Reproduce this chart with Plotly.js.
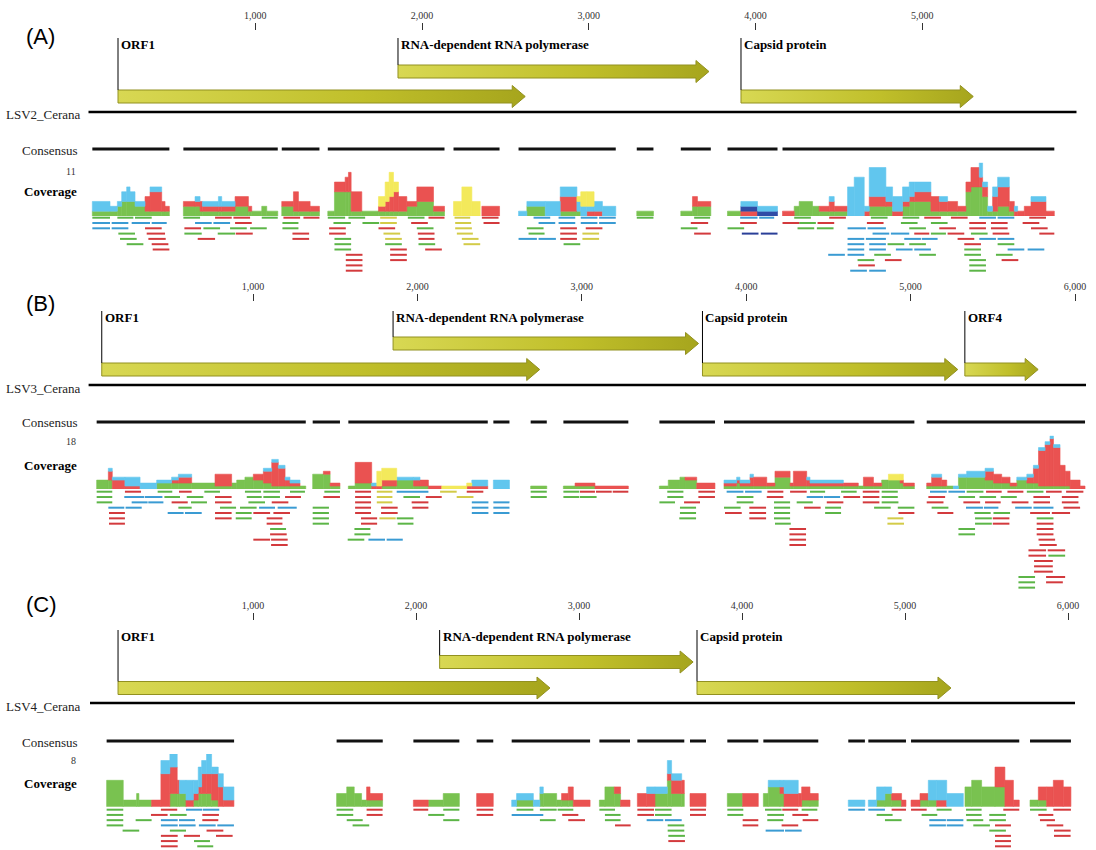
<!DOCTYPE html>
<html><head><meta charset="utf-8">
<script src="https://cdn.plot.ly/plotly-3.0.1.min.js"></script>
<style>html,body{margin:0;padding:0;background:#fff}#chart{width:1096px;height:850px}</style>
</head><body><div id="chart"></div>
<script>
// ---------------- DATA ----------------
const tickValsA = [1000, 2000, 3000, 4000, 5000];
const tickValsBC = [1000, 2000, 3000, 4000, 5000, 6000];

// genes: [name, start, end, row]  (row 1 = upper lane, 0 = lower lane)
const A_genes = [["ORF1", 177, 2619, 0], ["RNA-dependent RNA polymerase", 1856, 3721, 1], ["Capsid protein", 3913, 5306, 0]];
const B_genes = [["ORF1", 80, 2744, 0], ["RNA-dependent RNA polymerase", 1852, 3710, 1], ["Capsid protein", 3734, 5287, 0], ["ORF4", 5330, 5776, 0]];
const C_genes = [["ORF1", 172, 2822, 0], ["RNA-dependent RNA polymerase", 2145, 3700, 1], ["Capsid protein", 3724, 5282, 0]];

const A_length = 5925, B_length = 6067, C_length = 6043;
const A_maxCov = 11, B_maxCov = 18, C_maxCov = 8;

// consensus segments [start, end]
const A_consensus = [[23,485],[569,1135],[1159,1385],[1435,2135],[2189,2465],[2579,3162],[3288,3388],[3552,3732],[3832,4132],[4162,5792]];
const B_consensus = [[49,1321],[1363,1529],[1580,2428],[2462,2560],[2689,2787],[2888,3283],[3472,3810],[3865,5023],[5098,6061]];
const C_consensus = [[102,884],[1513,1796],[1984,2266],[2372,2474],[2587,3068],[3125,3313],[3358,3646],[3681,3779],[3910,4100],[4131,4468],[4652,4754],[4775,5006],[5037,5701],[5767,6018]];

// coverage segments [start, end, green, red, blue, yellow, darkblue]
const A_coverage = [
[23,129,1,0,2,0,0],[129,173,1,0,1,0,0],[173,199,2,0,1,0,0],[199,229,3,0,2,0,0],[229,249,3,0,3,0,0],[249,279,3,0,2,0,0],[279,339,2,0,1,0,0],[339,369,1,3,0,0,0],[369,439,1,4,1,0,0],[439,459,1,2,0,0,0],[459,485,1,1,0,0,0],
[569,639,2,1,0,0,0],[639,669,2,1,1,0,0],[669,683,1,2,0,0,0],[683,779,1,1,1,0,0],[779,799,1,1,2,0,0],[799,879,1,1,1,0,0],[879,959,2,2,0,0,0],[959,979,1,1,0,0,0],[979,1039,1,0,0,0,0],[1039,1069,2,0,0,0,0],[1069,1135,1,0,0,0,0],
[1159,1229,2,1,0,0,0],[1229,1259,1,4,0,0,0],[1259,1329,1,2,0,0,0],[1329,1385,1,1,0,0,0],
[1435,1475,1,0,0,0,0],[1475,1539,5,2,0,0,0],[1539,1559,5,3,0,0,0],[1559,1575,5,4,0,0,0],[1575,1639,1,4,0,0,0],[1639,1739,1,0,0,0,0],[1739,1779,1,1,0,2,0],[1779,1803,1,2,0,4,0],[1803,1829,1,3,0,5,0],[1829,1859,1,4,0,2,0],[1859,1909,1,3,0,0,0],[1909,1969,2,1,0,0,0],[1969,2069,3,3,0,0,0],[2069,2135,1,1,0,0,0],
[2189,2239,0,0,0,3,0],[2239,2299,0,0,0,6,0],[2299,2349,0,0,0,3,0],[2359,2465,0,2,0,0,0],
[2579,2629,0,0,1,0,0],[2629,2739,2,0,1,0,0],[2739,2829,0,0,3,0,0],[2829,2929,1,3,2,0,0],[2929,2952,1,0,2,1,0],[2952,2988,0,0,2,3,0],[2988,3032,0,1,1,3,0],[3032,3082,0,1,2,0,0],[3082,3162,0,0,2,0,0],
[3288,3388,1,0,0,0,0],
[3552,3622,1,0,0,0,0],[3622,3652,2,2,0,0,0],[3652,3732,2,1,0,0,0],
[3832,3912,1,0,0,0,0],[3912,4012,0,1,1,0,1],[4012,4132,0,0,1,0,1],
[4162,4232,0,1,0,0,0],[4232,4262,2,0,0,0,0],[4262,4342,3,0,0,0,0],[4342,4382,2,0,0,0,0],[4382,4442,1,1,0,0,0],[4442,4472,1,2,1,0,0],[4472,4552,1,1,0,0,0],[4552,4592,0,0,6,0,0],[4592,4652,0,0,8,0,0],[4652,4682,0,1,1,0,0],[4682,4782,2,2,6,0,0],[4782,4822,2,1,3,0,0],[4822,4882,0,1,3,0,0],[4882,4922,2,1,3,0,0],[4922,4952,3,1,3,0,0],[4952,5052,3,2,2,0,0],[5052,5102,1,3,0,0,0],[5102,5152,1,2,1,0,0],[5152,5212,1,2,0,0,0],[5212,5262,1,1,0,0,0],[5262,5292,5,2,0,0,0],[5292,5342,6,4,0,0,0],[5342,5362,6,2,3,0,0],[5362,5392,4,2,1,0,0],[5392,5422,1,0,1,0,0],[5422,5452,1,3,2,0,0],[5452,5522,2,4,2,0,0],[5522,5552,1,2,0,0,0],[5552,5572,0,1,1,0,0],[5572,5612,0,1,0,0,0],[5612,5652,0,2,0,0,0],[5652,5742,0,3,1,0,0],[5742,5792,0,1,0,0,0]
];
const B_coverage = [
[49,120,3,0,0,0,0],[120,144,3,3,1,0,0],[144,221,0,3,1,0,0],[221,313,0,1,3,0,0],[313,414,0,0,2,0,0],[414,505,2,0,1,0,0],[505,546,2,1,1,0,0],[546,627,2,2,1,0,0],[627,769,2,0,0,0,0],[769,870,1,4,0,0,0],[870,901,2,0,0,0,0],[901,951,3,0,0,0,0],[951,1002,4,0,0,0,0],[1002,1063,3,2,0,0,0],[1063,1114,2,4,1,0,0],[1114,1154,1,8,1,0,0],[1154,1195,1,6,1,0,0],[1195,1225,1,2,1,0,0],[1225,1286,1,1,1,0,0],[1286,1321,1,0,0,0,0],
[1363,1428,5,0,0,0,0],[1428,1469,5,1,0,0,0],[1469,1529,1,1,0,0,0],
[1580,1621,1,0,0,0,0],[1621,1722,2,7,0,0,0],[1722,1753,0,1,1,0,0],[1753,1783,0,1,0,5,0],[1783,1874,1,2,0,4,0],[1874,1976,3,0,1,0,0],[1976,2016,1,2,1,0,0],[2016,2067,1,2,0,0,0],[2067,2148,0,1,0,0,0],[2148,2300,0,0,0,1,0],[2300,2331,0,1,0,1,0],[2331,2428,0,1,2,0,0],
[2462,2560,0,0,3,0,0],[2689,2787,1,0,0,0,0],[2888,2959,1,0,0,0,0],[2959,3080,1,1,0,0,0],[3080,3283,0,1,0,0,0],
[3472,3526,1,0,0,0,0],[3526,3597,3,0,0,0,0],[3597,3628,4,0,0,0,0],[3628,3699,3,1,0,0,0],[3699,3810,0,2,0,0,0],
[3865,3942,1,1,1,0,0],[3942,3962,2,1,1,0,0],[3962,4023,1,1,1,0,0],[4023,4044,1,3,1,0,0],[4044,4125,1,3,0,0,0],[4125,4175,1,1,0,0,0],[4175,4267,4,2,0,0,0],[4267,4287,1,1,0,0,0],[4287,4368,1,5,0,0,0],[4368,4388,1,2,1,0,0],[4388,4591,1,1,1,0,0],[4591,4682,1,1,0,0,0],[4682,4713,1,0,0,0,0],[4713,4774,1,3,0,0,0],[4774,4824,1,1,0,0,0],[4824,4865,3,0,0,0,0],[4865,4936,3,0,0,2,0],[4936,4956,2,1,0,2,0],[4956,5023,1,1,0,0,0],
[5098,5128,1,1,0,0,0],[5128,5189,1,3,1,0,0],[5189,5220,1,2,0,0,0],[5220,5260,1,0,0,0,0],[5260,5291,0,0,1,0,0],[5291,5341,4,0,1,0,0],[5341,5453,4,0,2,0,0],[5453,5504,3,3,1,0,0],[5504,5554,2,3,0,0,0],[5554,5605,2,2,0,0,0],[5605,5646,1,1,0,0,0],[5646,5707,3,0,1,0,0],[5707,5747,2,2,1,0,0],[5747,5778,2,5,1,0,0],[5778,5818,1,12,1,0,0],[5818,5848,1,14,1,0,0],[5848,5869,1,16,1,0,0],[5869,5909,1,13,1,0,0],[5909,5940,1,7,0,0,0],[5940,5970,1,5,0,0,0],[5970,6031,0,3,0,0,0],[6031,6061,0,1,0,0,0]
];
const C_coverage = [
[102,204,4,0,0,0,0],[204,286,1,0,0,0,0],[286,300,2,0,0,0,0],[300,378,1,0,0,0,0],[378,435,0,1,0,0,0],[435,490,0,5,2,0,0],[490,535,2,4,2,0,0],[535,548,2,2,0,0,0],[548,589,2,0,2,0,0],[589,634,0,1,3,0,0],[634,664,1,1,2,0,0],[664,685,2,1,3,0,0],[685,715,2,3,2,0,0],[715,746,2,3,3,0,0],[746,787,1,4,1,0,0],[787,818,0,3,2,0,0],[818,883,0,1,2,0,0],
[1513,1575,2,0,0,0,0],[1575,1621,3,0,0,0,0],[1621,1666,2,0,0,0,0],[1666,1697,1,0,0,0,0],[1697,1718,1,2,0,0,0],[1718,1795,1,1,0,0,0],
[1984,2075,0,1,0,0,0],[2075,2167,1,0,0,0,0],[2167,2266,2,0,0,0,0],
[2372,2474,0,2,0,0,0],
[2587,2617,0,0,1,0,0],[2617,2720,1,0,1,0,0],[2720,2760,0,0,1,0,0],[2760,2781,2,0,1,0,0],[2781,2863,2,0,0,0,0],[2863,2893,1,0,0,0,0],[2893,2934,1,1,0,0,0],[2934,2965,1,2,0,0,0],[2965,3068,0,1,0,0,0],
[3125,3159,1,0,0,0,0],[3159,3217,3,0,0,0,0],[3217,3255,2,1,0,0,0],[3255,3313,0,1,0,0,0],
[3358,3415,0,2,0,0,0],[3415,3466,0,2,1,0,0],[3466,3542,2,0,1,0,0],[3542,3568,4,1,2,0,0],[3568,3630,2,2,1,0,0],[3630,3646,2,2,0,0,0],
[3681,3779,0,2,0,0,0],
[3910,4004,2,0,0,0,0],[4004,4100,0,2,0,0,0],
[4131,4161,2,0,0,0,0],[4161,4233,3,0,1,0,0],[4233,4258,2,1,1,0,0],[4258,4345,0,2,2,0,0],[4345,4366,0,2,0,0,0],[4366,4417,1,2,0,0,0],[4417,4468,1,1,0,0,0],
[4652,4754,0,0,1,0,0],
[4775,4826,0,0,1,0,0],[4826,4877,1,0,2,0,0],[4877,4918,2,0,1,0,0],[4918,4979,1,1,0,0,0],[4979,5006,0,1,0,0,0],
[5037,5092,0,1,0,0,0],[5092,5143,1,1,0,0,0],[5143,5194,1,0,3,0,0],[5194,5256,0,1,3,0,0],[5256,5358,0,0,2,0,0],[5368,5409,3,0,0,0,0],[5409,5470,4,0,0,0,0],[5470,5552,3,0,0,0,0],[5552,5613,3,3,0,0,0],[5613,5665,0,4,0,0,0],[5665,5701,0,1,0,0,0],
[5767,5818,1,0,0,0,0],[5818,5869,1,2,0,0,0],[5869,5910,0,3,0,0,0],[5910,5971,0,4,0,0,0],[5971,6018,0,3,0,0,0]
];

// reads [start, end, row, colour]  g=green r=red b=blue y=yellow d=dark blue
const A_reads = [
[23,129,0,'g'],[173,269,0,'g'],[279,379,0,'g'],[569,669,0,'g'],[759,859,0,'r'],[869,969,0,'r'],[1039,1135,0,'g'],[1169,1269,0,'r'],[1289,1385,0,'r'],[1435,1539,0,'g'],[1559,1659,0,'g'],[1749,1849,0,'y'],[1915,2015,0,'g'],[2039,2135,0,'r'],[2195,2289,0,'y'],[2359,2459,0,'r'],[2669,2769,0,'b'],[2819,2919,0,'b'],[2952,3052,0,'b'],[3062,3162,0,'b'],[3288,3388,0,'g'],[3632,3728,0,'g'],[3908,4012,0,'b'],[4022,4112,0,'b'],[4232,4332,0,'g'],[4442,4542,0,'r'],[4692,4792,0,'g'],[4882,4982,0,'g'],[5012,5112,0,'r'],[5172,5272,0,'r'],[5342,5442,0,'b'],[5452,5552,0,'b'],[5642,5742,0,'r'],
[23,129,1,'b'],[139,239,1,'b'],[259,369,1,'b'],[379,469,1,'b'],[639,739,1,'b'],[749,849,1,'b'],[879,979,1,'r'],[1163,1259,1,'g'],[1469,1573,1,'g'],[1643,1743,1,'g'],[1749,1849,1,'y'],[1935,2035,1,'r'],[2199,2295,1,'y'],[2369,2465,1,'r'],[2699,2799,1,'b'],[2819,2919,1,'b'],[2952,3052,1,'b'],[3062,3162,1,'b'],[3612,3716,1,'r'],[3908,4008,1,'r'],[4162,4262,1,'r'],[4262,4362,1,'g'],[4372,4472,1,'r'],[4668,4768,1,'r'],[4872,4972,1,'g'],[5052,5152,1,'g'],[5282,5382,1,'r'],[5412,5512,1,'r'],[5602,5702,1,'r'],
[23,129,2,'b'],[139,239,2,'b'],[339,439,2,'r'],[575,675,2,'r'],[689,789,2,'g'],[849,949,2,'g'],[969,1069,2,'g'],[1163,1259,2,'g'],[1443,1543,2,'r'],[1739,1839,2,'r'],[1969,2069,2,'g'],[2199,2299,2,'y'],[2629,2729,2,'g'],[2829,2929,2,'r'],[2982,3082,2,'r'],[3552,3652,2,'g'],[3832,3932,2,'g'],[4252,4352,2,'g'],[4368,4468,2,'g'],[4552,4662,2,'b'],[4672,4782,2,'b'],[4922,5022,2,'g'],[5102,5202,2,'r'],[5282,5382,2,'r'],[5412,5512,2,'r'],[5652,5752,2,'r'],
[179,279,3,'g'],[349,459,3,'r'],[575,679,3,'g'],[775,879,3,'g'],[883,985,3,'r'],[1223,1323,3,'r'],[1443,1543,3,'r'],[1769,1869,3,'y'],[1975,2075,3,'r'],[2209,2305,3,'y'],[2639,2735,3,'g'],[2829,2929,3,'r'],[2962,3062,3,'y'],[3632,3732,3,'r'],[3918,4018,3,'d'],[4032,4132,3,'d'],[4702,4802,3,'b'],[4812,4922,3,'b'],[4952,5042,3,'r'],[5052,5142,3,'g'],[5152,5252,3,'r'],[5292,5392,3,'g'],[5422,5522,3,'r'],[5702,5792,3,'r'],
[189,289,4,'g'],[359,463,4,'r'],[655,759,4,'r'],[1223,1323,4,'r'],[1475,1575,4,'g'],[1779,1879,4,'y'],[1979,2075,4,'r'],[2239,2339,4,'y'],[2579,2689,4,'b'],[2699,2803,4,'b'],[2829,2929,4,'r'],[2962,3062,4,'y'],[4552,4652,4,'b'],[4662,4782,4,'b'],[4892,4992,4,'b'],[4997,5092,4,'b'],[5212,5312,4,'r'],[5342,5442,4,'b'],[5452,5552,4,'b'],
[229,329,5,'g'],[379,479,5,'r'],[1475,1575,5,'g'],[1779,1879,5,'g'],[1979,2079,5,'g'],[2249,2349,5,'y'],[2849,2949,5,'g'],[4552,4652,5,'b'],[4682,4782,5,'b'],[4792,4892,5,'g'],[4922,5022,5,'g'],[5252,5352,5,'r'],[5452,5552,5,'g'],
[385,485,6,'r'],[1475,1575,6,'g'],[1809,1909,6,'r'],[2019,2119,6,'r'],[4552,4652,6,'b'],[4682,4782,6,'b'],[4842,4942,6,'b'],[4952,5052,6,'b'],[5252,5352,6,'g'],[5512,5612,6,'b'],[5632,5732,6,'b'],
[1543,1643,7,'r'],[1809,1909,7,'r'],[4436,4536,7,'b'],[4552,4652,7,'b'],[4712,4812,7,'g'],[4982,5082,7,'g'],[5252,5352,7,'g'],[5442,5542,7,'g'],
[1543,1643,8,'r'],[1809,1909,8,'r'],[4612,4712,8,'g'],[4776,4876,8,'r'],[5282,5382,8,'g'],[5476,5576,8,'r'],
[1543,1643,9,'r'],[4616,4716,9,'r'],[5282,5382,9,'g'],
[1543,1643,10,'r'],[4568,4668,10,'b'],[4682,4782,10,'b'],[5282,5382,10,'g']
];
const B_reads = [
[49,144,0,'g'],[221,319,0,'r'],[420,509,0,'g'],[550,627,0,'r'],[704,799,0,'g'],[951,1049,0,'g'],[1063,1164,0,'g'],[1225,1316,0,'g'],[1434,1529,0,'g'],[1621,1718,0,'r'],[1753,1848,0,'y'],[1874,2067,0,'b'],[2138,2239,0,'y'],[2300,2401,0,'r'],[2689,2787,0,'g'],[2888,2985,0,'g'],[2989,3080,0,'r'],[3086,3182,0,'r'],[3188,3283,0,'r'],[3520,3618,0,'g'],[3709,3810,0,'r'],[3881,3983,0,'b'],[3993,4094,0,'b'],[4129,4226,0,'r'],[4267,4368,0,'r'],[4388,4480,0,'g'],[4577,4672,0,'g'],[4709,4810,0,'r'],[4824,4922,0,'g'],[5118,5220,0,'b'],[5230,5331,0,'b'],[5341,5443,0,'g'],[5459,5554,0,'r'],[5589,5686,0,'r'],[5707,5808,0,'g'],[5824,5919,0,'r'],[5946,6051,0,'r'],
[49,144,1,'g'],[217,339,1,'b'],[343,449,1,'b'],[461,556,1,'g'],[597,698,1,'g'],[769,870,1,'r'],[962,1053,1,'g'],[1063,1164,1,'g'],[1195,1292,1,'r'],[1428,1529,1,'r'],[1621,1718,1,'r'],[1753,1848,1,'y'],[1915,2016,1,'g'],[2051,2148,1,'r'],[2239,2341,1,'y'],[2689,2787,1,'g'],[2888,2985,1,'g'],[2989,3090,1,'g'],[3520,3618,1,'g'],[3709,3810,1,'r'],[3942,4044,1,'g'],[4125,4226,1,'r'],[4368,4469,1,'b'],[4473,4571,1,'b'],[4591,4693,1,'r'],[4709,4810,1,'r'],[4824,4922,1,'g'],[5108,5210,1,'r'],[5291,5392,1,'g'],[5419,5520,1,'g'],[5548,5646,1,'g'],[5747,5848,1,'r'],[5920,6021,1,'r'],
[49,144,2,'g'],[262,359,2,'b'],[363,455,2,'b'],[505,603,2,'r'],[623,720,2,'g'],[769,870,2,'r'],[972,1073,2,'g'],[1114,1215,2,'r'],[1621,1718,2,'r'],[1753,1848,2,'y'],[1965,2067,2,'r'],[2331,2432,2,'b'],[2462,2560,2,'b'],[3472,3567,2,'g'],[3622,3719,2,'r'],[3942,4044,2,'g'],[4169,4267,2,'g'],[4307,4405,2,'g'],[4490,4591,2,'r'],[4709,4810,2,'r'],[4824,4926,2,'g'],[5098,5200,2,'r'],[5321,5423,2,'r'],[5453,5548,2,'r'],[5615,5717,2,'r'],[5747,5848,2,'r'],[5920,6021,2,'r'],
[120,217,3,'b'],[225,323,3,'b'],[546,627,3,'g'],[799,897,3,'g'],[921,1022,3,'g'],[1037,1134,3,'b'],[1150,1266,3,'b'],[1363,1462,3,'g'],[1621,1718,3,'r'],[1779,1880,3,'r'],[1969,2067,3,'r'],[2331,2432,3,'b'],[2462,2560,3,'b'],[3597,3695,3,'g'],[3865,3966,3,'g'],[4019,4121,3,'r'],[4169,4267,3,'g'],[4352,4453,3,'r'],[4480,4577,3,'g'],[4778,4879,3,'g'],[4922,5023,3,'g'],[5128,5230,3,'g'],[5337,5440,3,'b'],[5446,5534,3,'b'],[5636,5737,3,'b'],[5747,5869,3,'b'],[5930,6031,3,'r'],
[124,221,4,'r'],[481,578,4,'b'],[586,688,4,'b'],[769,870,4,'r'],[895,992,4,'g'],[1002,1104,4,'r'],[1124,1225,4,'r'],[1363,1462,4,'g'],[1621,1718,4,'r'],[1779,1880,4,'r'],[2331,2432,4,'b'],[2462,2560,4,'b'],[3597,3695,4,'g'],[3871,3973,4,'r'],[4019,4121,4,'r'],[4169,4267,4,'g'],[4480,4577,4,'g'],[4926,5023,4,'r'],[5163,5260,4,'r'],[5388,5487,4,'g'],[5504,5605,4,'g'],[5727,5848,4,'r'],[5859,5970,4,'r'],
[124,221,5,'r'],[769,870,5,'r'],[895,992,5,'g'],[1083,1179,5,'r'],[1363,1462,5,'g'],[1657,1755,5,'r'],[1769,1868,5,'y'],[1874,1976,5,'g'],[3593,3695,5,'g'],[4019,4121,5,'r'],[4169,4267,5,'g'],[4859,4956,5,'y'],[5392,5494,5,'g'],[5500,5601,5,'r'],[5767,5869,5,'g'],
[124,221,6,'r'],[1083,1179,6,'r'],[1363,1462,6,'g'],[1657,1755,6,'r'],[1880,1976,6,'g'],[4175,4271,6,'g'],[4859,4960,6,'y'],[5392,5494,6,'g'],[5500,5601,6,'r'],[5767,5869,6,'r'],
[1104,1201,7,'g'],[1617,1714,7,'g'],[4263,4364,7,'r'],[5291,5392,7,'g'],[5767,5869,7,'r'],
[1104,1205,8,'r'],[1617,1714,8,'g'],[4263,4364,8,'r'],[5291,5392,8,'g'],[5767,5869,8,'r'],
[1002,1104,9,'r'],[1110,1211,9,'r'],[1576,1677,9,'g'],[1702,1803,9,'b'],[1813,1911,9,'b'],[4263,4364,9,'r'],[5778,5879,9,'r'],
[1110,1211,10,'r'],[4263,4364,10,'r'],[5784,5889,10,'r'],
[5717,5824,11,'r'],[5834,5940,11,'r'],
[5717,5824,12,'r'],[5838,5940,12,'g'],
[5751,5865,13,'r'],[5751,5865,14,'r'],[5751,5865,15,'r'],
[5656,5757,16,'g'],[5824,5940,16,'r'],
[5656,5757,17,'g'],[5824,5926,17,'r'],
[5656,5757,18,'g']
];
const C_reads = [
[102,204,0,'g'],[435,535,0,'r'],[589,689,0,'b'],[693,793,0,'b'],
[102,204,1,'g'],[374,476,1,'r'],[490,593,1,'g'],[689,791,1,'r'],
[102,204,2,'g'],[280,378,2,'g'],[435,538,2,'b'],[546,644,2,'b'],[689,787,2,'r'],
[102,204,3,'g'],[435,538,3,'b'],[546,648,3,'b'],[668,771,3,'b'],[781,883,3,'b'],
[200,302,4,'g'],[490,589,4,'g'],[715,818,4,'r'],
[435,538,5,'r'],[576,675,5,'r'],[773,875,5,'r'],
[435,538,6,'r'],[638,736,6,'g'],
[435,538,7,'r'],[658,756,7,'g'],
[1513,1615,0,'g'],[1697,1795,0,'r'],[1513,1615,1,'g'],[1697,1795,1,'r'],[1575,1673,2,'g'],[1611,1713,3,'g'],
[1984,2075,0,'r'],[2167,2266,0,'g'],[2075,2174,1,'g'],[2167,2266,2,'g'],
[2372,2474,0,'r'],[2372,2474,1,'r'],
[2617,2720,0,'g'],[2760,2863,0,'g'],[2869,2965,0,'g'],[2587,2781,1,'b'],[2897,2996,1,'r'],[2760,2857,2,'g'],[2934,3037,2,'r'],
[3125,3221,0,'g'],[3358,3460,0,'r'],[3466,3568,0,'g'],[3681,3779,0,'r'],[3910,4008,0,'g'],[4141,4243,0,'g'],[4247,4345,0,'r'],[4366,4462,0,'g'],[4652,4754,0,'b'],[4775,4877,0,'b'],[4918,5006,0,'r'],[5037,5133,0,'r'],[5194,5286,0,'g'],[5374,5470,0,'g'],[5603,5701,0,'r'],[5767,5869,0,'g'],[5910,6018,0,'r'],
[3159,3255,1,'g'],[3358,3460,1,'r'],[3466,3568,1,'g'],[3681,3779,1,'r'],[3910,4008,1,'g'],[4155,4258,1,'g'],[4309,4407,1,'r'],[4826,4924,1,'g'],[5102,5198,1,'g'],[5374,5470,1,'g'],[5517,5619,1,'g'],[5818,5910,1,'r'],
[3159,3255,2,'g'],[3415,3517,2,'b'],[3527,3630,2,'b'],[4004,4100,2,'r'],[4155,4253,2,'g'],[4372,4468,2,'r'],[4877,4979,2,'g'],[5149,5251,2,'b'],[5256,5358,2,'b'],[5378,5480,2,'g'],[5517,5619,2,'g'],[5828,5920,2,'r'],
[3221,3317,3,'r'],[3544,3646,3,'g'],[4004,4100,3,'r'],[4243,4345,3,'r'],[5149,5251,3,'b'],[5256,5358,3,'b'],[5419,5521,3,'g'],[5552,5650,3,'r'],[5869,5971,3,'r'],
[3544,3646,4,'g'],[4145,4258,4,'b'],[4264,4366,4,'b'],[5517,5619,4,'g'],[5914,6016,4,'r'],
[3548,3650,5,'g'],[5552,5650,5,'r'],[5914,6016,5,'r'],
[3548,3650,6,'r'],[5552,5650,6,'r'],
[5552,5650,7,'r']
];

// ---------------- STYLE / LAYOUT CONSTANTS ----------------
const W = 1096, H = 850;
const SERIF = "Liberation Serif, Times New Roman, serif";
const covColor = {g:'#79c250', r:'#ea5251', d:'#2f4ca6', b:'#61c6ee', y:'#f3e95b'};
const readColor = {g:'#5cb547', r:'#d33a3d', d:'#2a3f98', b:'#3a9bd3', y:'#d3cb48'};
const covIdx = {g:2, r:3, b:4, y:5, d:6};
const stackOrder = ['g','r','d','b','y'];

const panels = [
  {tag:'(A)', name:'LSV2_Cerana', len:A_length, maxCov:A_maxCov, genes:A_genes, cons:A_consensus, cov:A_coverage, reads:A_reads, ticks:tickValsA,
   slope:0.16675, icpt:88.5, top:0, bottom:282, axisY:30, tagY:36, geneLabelY:44, upY:71.5, lowY:96.5, genomeY:112, consY:149, maxY:171, covLblY:191, covBase:216, pxU:4.85, readTop:217.7, rowGap:5.3},
  {tag:'(B)', name:'LSV3_Cerana', len:B_length, maxCov:B_maxCov, genes:B_genes, cons:B_consensus, cov:B_coverage, reads:B_reads, ticks:tickValsBC,
   slope:0.1644, icpt:88.6, top:282, bottom:592, axisY:301, tagY:303, geneLabelY:317, upY:343.5, lowY:369.5, genomeY:385, consY:422, maxY:441, covLblY:465, covBase:489, pxU:2.96, readTop:491.7, rowGap:5.33},
  {tag:'(C)', name:'LSV4_Cerana', len:C_length, maxCov:C_maxCov, genes:C_genes, cons:C_consensus, cov:C_coverage, reads:C_reads, ticks:tickValsBC,
   slope:0.163, icpt:90, top:592, bottom:850, axisY:620, tagY:604, geneLabelY:636, upY:662, lowY:688, genomeY:703, consY:741, maxY:760, covLblY:783, covBase:806.7, pxU:6.6, readTop:809.7, rowGap:5.23}
];

const traces = [], annotations = [];
const layout = {
  width: W, height: H, margin:{l:0,r:0,t:0,b:0},
  paper_bgcolor:'#ffffff', plot_bgcolor:'rgba(0,0,0,0)',
  showlegend:false, barmode:'overlay', hovermode:false,
  annotations
};

panels.forEach((p, i) => {
  const xa = i === 0 ? 'x' : 'x' + (i + 1);
  const yt = i === 0 ? 'y' : 'y' + (i + 1);
  const yc = 'y' + (i + 4);
  const xKey = i === 0 ? 'xaxis' : 'xaxis' + (i + 1);
  const ytKey = i === 0 ? 'yaxis' : 'yaxis' + (i + 1);
  const ycKey = 'yaxis' + (i + 4);

  layout[xKey] = {
    domain:[0,1], range:[-p.icpt / p.slope, (W - p.icpt) / p.slope],
    anchor:'free', position: 1 - p.axisY / H, side:'top',
    showgrid:false, zeroline:false, showline:false,
    ticks:'outside', ticklen:7, tickwidth:1, tickcolor:'#333',
    tickvals:p.ticks, ticktext:p.ticks.map(v => v.toLocaleString('en-US')),
    tickfont:{family:SERIF, size:10, color:'#333'}, fixedrange:true
  };
  layout[ytKey] = {domain:[1 - p.bottom / H, 1 - p.top / H], range:[p.bottom, p.top], visible:false, anchor:'free', position:0, fixedrange:true};
  const covTop = p.covBase - p.maxCov * p.pxU;
  layout[ycKey] = {domain:[1 - p.covBase / H, 1 - covTop / H], range:[0, p.maxCov], visible:false, anchor:'free', position:0, fixedrange:true};

  // genome line
  traces.push({type:'scatter', mode:'lines', x:[0, p.len], y:[p.genomeY, p.genomeY], xaxis:xa, yaxis:yt,
    line:{color:'#000', width:2.5}, hoverinfo:'skip'});

  // gene arrows
  const hl = 13 / p.slope, bh = 6.5, hh = 11;
  p.genes.forEach(g => {
    const [name, s, e, row] = g;
    const cy = row ? p.upY : p.lowY;
    traces.push({type:'scatter', mode:'lines', fill:'toself',
      x:[s, e - hl, e - hl, e, e - hl, e - hl, s, s],
      y:[cy - bh, cy - bh, cy - hh, cy, cy + hh, cy + bh, cy + bh, cy - bh],
      xaxis:xa, yaxis:yt, line:{color:'#929120', width:1},
      fillcolor:'#c2c133',
      fillgradient:{type:'horizontal', colorscale:[[0,'#d8d853'],[0.6,'#c0bf2a'],[1,'#a6a51d']]},
      hoverinfo:'skip'});
    traces.push({type:'scatter', mode:'lines', x:[s, s], y:[p.geneLabelY - 6, cy - bh], xaxis:xa, yaxis:yt,
      line:{color:'#000', width:1}, hoverinfo:'skip'});
    annotations.push({xref:xa, yref:yt, x:s, y:p.geneLabelY, xanchor:'left', yanchor:'middle', xshift:1,
      text:'<b>' + name + '</b>', showarrow:false, font:{family:SERIF, size:13, color:'#000'}});
  });

  // consensus
  const cx = [], cyv = [];
  p.cons.forEach(c => { cx.push(c[0], c[1], null); cyv.push(p.consY, p.consY, null); });
  traces.push({type:'scatter', mode:'lines', x:cx, y:cyv, xaxis:xa, yaxis:yt, line:{color:'#111', width:3}, hoverinfo:'skip'});

  // coverage (stacked)
  stackOrder.forEach(c => {
    const x = [], w = [], y = [], base = [];
    p.cov.forEach(seg => {
      const v = seg[covIdx[c]] || 0;
      if (!v) return;
      let b = 0;
      for (const c2 of stackOrder) { if (c2 === c) break; b += seg[covIdx[c2]] || 0; }
      x.push((seg[0] + seg[1]) / 2); w.push(seg[1] - seg[0]); y.push(v); base.push(b);
    });
    if (x.length) traces.push({type:'bar', x, y, base, width:w, xaxis:xa, yaxis:yc,
      marker:{color:covColor[c], line:{width:0.6, color:covColor[c]}}, hoverinfo:'skip'});
  });

  // reads
  Object.keys(readColor).forEach(c => {
    const x = [], y = [];
    p.reads.filter(r => r[3] === c).forEach(r => {
      const yy = p.readTop + r[2] * p.rowGap;
      x.push(r[0], r[1], null); y.push(yy, yy, null);
    });
    if (x.length) traces.push({type:'scatter', mode:'lines', x, y, xaxis:xa, yaxis:yt,
      line:{color:readColor[c], width:2}, hoverinfo:'skip'});
  });

  // text labels
  const py = v => 1 - v / H;
  annotations.push({xref:'paper', yref:'paper', x:24 / W, y:py(p.tagY), xanchor:'left', yanchor:'middle', showarrow:false,
    text:p.tag, font:{family:'Liberation Sans, Arial, sans-serif', size:22, color:'#000'}});
  annotations.push({xref:'paper', yref:'paper', x:4 / W, y:py(p.genomeY + 3), xanchor:'left', yanchor:'middle', showarrow:false,
    text:p.name, font:{family:SERIF, size:13, color:'#222'}});
  annotations.push({xref:'paper', yref:'paper', x:80 / W, y:py(p.consY + 1), xanchor:'right', yanchor:'middle', showarrow:false,
    text:'Consensus', font:{family:SERIF, size:13, color:'#222'}});
  annotations.push({xref:'paper', yref:'paper', x:78 / W, y:py(p.maxY), xanchor:'right', yanchor:'middle', showarrow:false,
    text:String(p.maxCov), font:{family:SERIF, size:10, color:'#333'}});
  annotations.push({xref:'paper', yref:'paper', x:79 / W, y:py(p.covLblY), xanchor:'right', yanchor:'middle', showarrow:false,
    text:'<b>Coverage</b>', font:{family:SERIF, size:13, color:'#000'}});
});

Plotly.newPlot('chart', traces, layout, {staticPlot:true, displayModeBar:false});
</script>
</body></html>
